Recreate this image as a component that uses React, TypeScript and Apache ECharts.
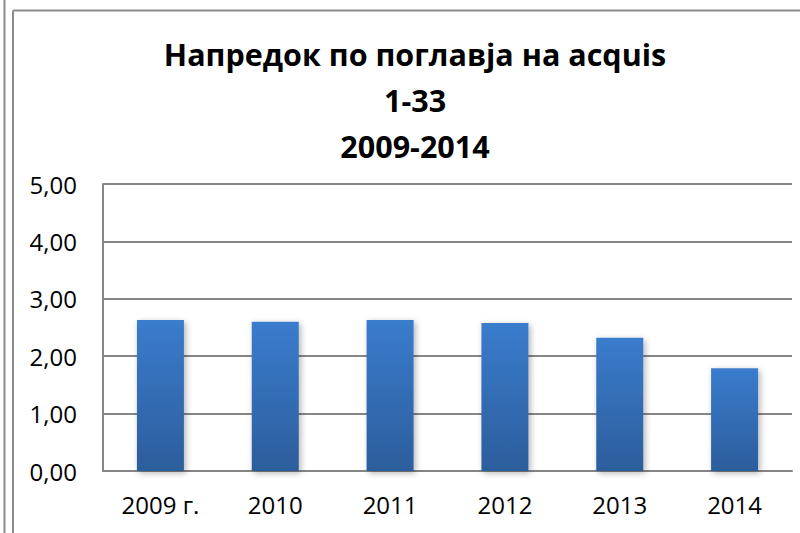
import React, { useEffect, useRef } from "react";
import * as echarts from "echarts";

const categories = ["2009 г.", "2010", "2011", "2012", "2013", "2014"];
const values = [2.63, 2.6, 2.63, 2.58, 2.32, 1.79];
const titleLines = ["Напредок по поглавја на acquis", "1-33", "2009-2014"];

const FONT = "'Open Sans', sans-serif";

export default function App() {
  const ref = useRef<HTMLDivElement>(null);
  useEffect(() => {
    if (!ref.current) return;
    const chart = echarts.init(ref.current, null, { renderer: "svg" });
    chart.setOption({
      animation: false,
      backgroundColor: "#ffffff",
      title: {
        text: titleLines.join("\n"),
        left: 415,
        textAlign: "center",
        top: 31,
        padding: 0,
        textStyle: {
          fontFamily: FONT,
          fontWeight: "bold",
          fontSize: 30.5,
          lineHeight: 46,
          color: "#000000",
        },
      },
      grid: { left: 103, right: 8, top: 184, bottom: 62, containLabel: false },
      xAxis: {
        type: "category",
        data: categories,
        axisLine: { show: true, lineStyle: { color: "#868686", width: 2 } },
        axisTick: { show: false },
        axisLabel: {
          color: "#000000",
          fontFamily: FONT,
          fontSize: 24,
          margin: 21,
        },
      },
      yAxis: {
        type: "value",
        min: 0,
        max: 5,
        interval: 1,
        axisLine: { show: true, lineStyle: { color: "#868686", width: 2 } },
        axisTick: { show: false },
        splitLine: { show: true, lineStyle: { color: "#868686", width: 2 } },
        axisLabel: {
          color: "#000000",
          fontFamily: FONT,
          fontSize: 24,
          margin: 26,
          formatter: (v: number) => v.toFixed(2).replace(".", ","),
        },
      },
      series: [
        {
          type: "bar",
          data: values,
          barWidth: 47,
          itemStyle: {
            color: new echarts.graphic.LinearGradient(0, 0, 0, 1, [
              { offset: 0, color: "#3a7ccd" },
              { offset: 1, color: "#2c5d9c" },
            ]),
            shadowBlur: 6,
            shadowColor: "rgba(0,0,0,0.3)",
            shadowOffsetX: 2,
            shadowOffsetY: 2,
          },
        },
      ],
      graphic: [
        { type: "line", shape: { x1: 4.5, y1: 0, x2: 4.5, y2: 533 }, style: { stroke: "#8c8c8c", lineWidth: 2 } },
        { type: "line", shape: { x1: 13, y1: 10.5, x2: 13, y2: 533 }, style: { stroke: "#8c8c8c", lineWidth: 2 } },
        { type: "line", shape: { x1: 13, y1: 10.5, x2: 800, y2: 10.5 }, style: { stroke: "#8c8c8c", lineWidth: 2 } },
      ],
    });
    return () => chart.dispose();
  }, []);
  return (
    <div
      ref={ref}
      style={{ position: "fixed", left: 0, top: 0, width: 800, height: 533 }}
    />
  );
}
